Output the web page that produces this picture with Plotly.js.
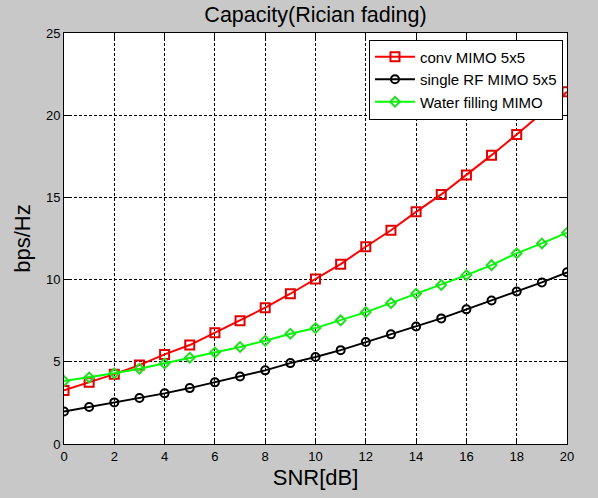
<!DOCTYPE html>
<html>
<head>
<meta charset="utf-8">
<script src="https://cdn.plot.ly/plotly-3.0.1.min.js"></script>
<style>html,body{margin:0;padding:0;background:#c8c8c8;}#chart{width:598px;height:498px;}</style>
</head>
<body>
<div id="chart"></div>
<script>
const snr = [0,1,2,3,4,5,6,7,8,9,10,11,12,13,14,15,16,17,18,19,20];
const convMimo = [3.26,3.75,4.25,4.8,5.45,6.02,6.77,7.5,8.29,9.14,10.03,10.94,12.0,13.0,14.12,15.18,16.37,17.57,18.83,20.1,21.42];
const singleRf = [1.98,2.25,2.53,2.8,3.08,3.4,3.75,4.11,4.48,4.92,5.29,5.71,6.2,6.67,7.15,7.64,8.19,8.73,9.28,9.83,10.44];
const waterFilling = [3.83,4.05,4.3,4.58,4.9,5.25,5.57,5.9,6.28,6.71,7.05,7.52,8.02,8.57,9.14,9.67,10.27,10.88,11.6,12.2,12.85];
const seriesNames = ['conv MIMO 5x5','single RF MIMO 5x5','Water filling MIMO'];
const xTicks = [0,2,4,6,8,10,12,14,16,18,20];
const yTicks = [0,5,10,15,20,25];

const font = 'Liberation Sans, Arial, sans-serif';
const traces = [
  {x: snr, y: convMimo, name: seriesNames[0], mode: 'lines+markers',
   line: {color: '#ff0000', width: 2},
   marker: {symbol: 'square-open', size: 9, color: '#e00000', line: {width: 2}}},
  {x: snr, y: singleRf, name: seriesNames[1], mode: 'lines+markers',
   line: {color: '#000000', width: 2},
   marker: {symbol: 'circle-open', size: 8, color: '#000000', line: {width: 2}}},
  {x: snr, y: waterFilling, name: seriesNames[2], mode: 'lines+markers',
   line: {color: '#00ff00', width: 2},
   marker: {symbol: 'diamond-open', size: 7.5, color: '#22dd22', line: {width: 2}}}
];

const axisCommon = {
  showgrid: true, gridcolor: '#000000', griddash: '3px,2px', gridwidth: 1,
  showline: true, linecolor: '#000000', linewidth: 1, mirror: 'ticks',
  ticks: 'inside', ticklen: 5, tickcolor: '#000000',
  zeroline: false, tickfont: {family: font, size: 13, color: '#000000'},
  fixedrange: true
};

const layout = {
  width: 598, height: 498,
  paper_bgcolor: '#c8c8c8', plot_bgcolor: '#ffffff',
  margin: {l: 64, r: 31, t: 33, b: 54},
  title: {text: 'Capacity(Rician fading)', font: {family: font, size: 21.5, color: '#000000'},
          x: 0.5, xref: 'paper', y: 0.97, yref: 'container', yanchor: 'middle'},
  xaxis: Object.assign({}, axisCommon, {
    range: [0, 20], tickvals: xTicks,
    title: {text: 'SNR[dB]', font: {family: font, size: 22, color: '#000000'}, standoff: 7}
  }),
  yaxis: Object.assign({}, axisCommon, {
    range: [0, 25], tickvals: yTicks,
    title: {text: 'bps/Hz', font: {family: font, size: 22, color: '#000000'}, standoff: 9}
  }),
  legend: {x: 0.992, y: 0.984, xanchor: 'right', yanchor: 'top',
           bgcolor: '#ffffff', bordercolor: '#000000', borderwidth: 1,
           font: {family: font, size: 15, color: '#000000'}, itemwidth: 40,
           tracegroupgap: 0},
  showlegend: true
};

Plotly.newPlot('chart', traces, layout, {staticPlot: true, displayModeBar: false});
</script>
</body>
</html>
